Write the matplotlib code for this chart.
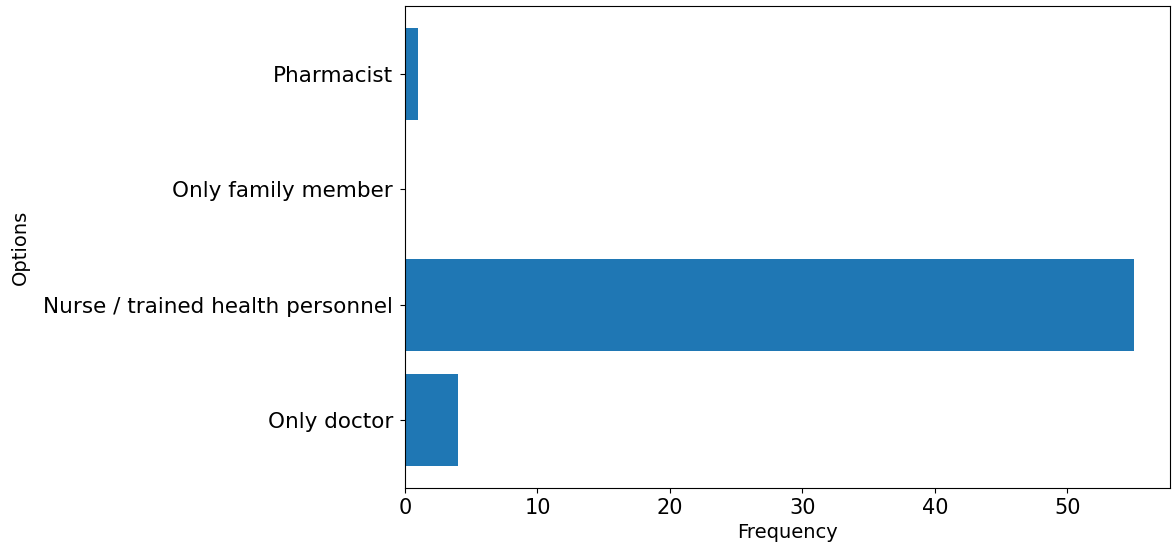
import matplotlib
matplotlib.use("Agg")
import matplotlib.pyplot as plt

# responses
options = ["Only doctor", "Nurse / trained health personnel", "Only family member", "Pharmacist"]
frequency = [4, 55, 0, 1]

fig = plt.figure(figsize=(11.74, 5.45), dpi=100)
ax = fig.add_axes([405 / 1174, 1 - 488 / 545, (1170 - 405) / 1174, (488 - 6) / 545])

ax.barh(options, frequency, color="#1f77b4")
ax.set_xlabel("Frequency", fontsize=14)
ax.set_ylabel("Options", fontsize=14, labelpad=10)
ax.tick_params(axis="y", labelsize=15.5, pad=5)
ax.tick_params(axis="x", labelsize=15)

fig.savefig("out.png", dpi=100)
